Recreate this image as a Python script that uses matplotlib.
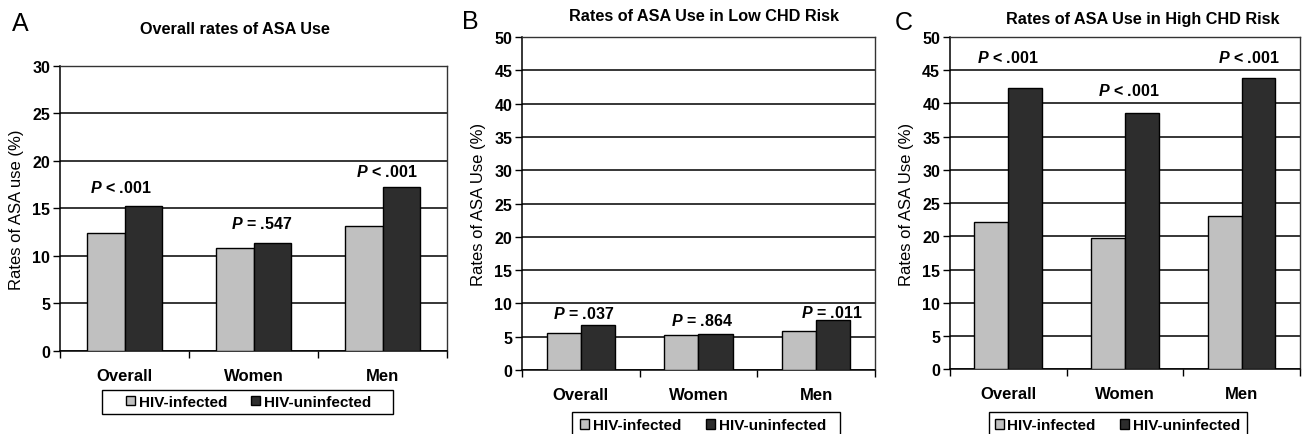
import matplotlib
matplotlib.use("Agg")
import matplotlib.pyplot as plt
import numpy as np
from matplotlib.patches import Patch, Rectangle

plt.rcParams["font.family"] = ["Liberation Sans", "DejaVu Sans"]
plt.rcParams["mathtext.fontset"] = "custom"
plt.rcParams["mathtext.it"] = "Liberation Sans:italic:bold"
plt.rcParams["mathtext.rm"] = "Liberation Sans:bold"

categories = ["Overall", "Women", "Men"]
series = ["HIV-infected", "HIV-uninfected"]

a_infected = [12.4, 10.8, 13.1]
a_uninfected = [15.3, 11.4, 17.3]
a_pvals = ["$P$ < .001", "$P$ = .547", "$P$ < .001"]

b_infected = [5.6, 5.3, 5.8]
b_uninfected = [6.8, 5.4, 7.5]
b_pvals = ["$P$ = .037", "$P$ = .864", "$P$ = .011"]

c_infected = [22.1, 19.7, 23.0]
c_uninfected = [42.4, 38.5, 43.9]
c_pvals = ["$P$ < .001", "$P$ < .001", "$P$ < .001"]

LIGHT = "#c0c0c0"
DARK = "#2d2d2d"
W = 0.29

fig = plt.figure(figsize=(13.04, 4.35), dpi=100)

# per panel layout: axes rect, title / letter positions, legend centre and its box,
# p-label placement (x offset from group centre, y in data units)
panels = [
    dict(rect=[0.046, 0.191, 0.297, 0.655], ymax=30, inf=a_infected, uninf=a_uninfected,
         pv=a_pvals, ylabel="Rates of ASA use (%)", title="Overall rates of ASA Use",
         tpos=(0.180, 0.933), letter="A", lpos=(0.009, 0.945),
         leg=(0.1906, 0.0736), box=(0.0782, 0.046, 0.2232, 0.0552),
         pdx=[-0.03, 0.06, 0.03], py=[17.3, 13.5, 18.9]),
    dict(rect=[0.4003, 0.147, 0.2707, 0.7655], ymax=50, inf=b_infected, uninf=b_uninfected,
         pv=b_pvals, ylabel="Rates of ASA Use (%)", title="Rates of ASA Use in Low CHD Risk",
         tpos=(0.540, 0.961), letter="B", lpos=(0.354, 0.950),
         leg=(0.539, 0.020), box=(0.4387, -0.03, 0.2055, 0.0806),
         pdx=[0.02, 0.03, 0.13], py=[8.55, 7.5, 8.7]),
    dict(rect=[0.7285, 0.149, 0.2684, 0.7635], ymax=50, inf=c_infected, uninf=c_uninfected,
         pv=c_pvals, ylabel="Rates of ASA Use (%)", title="Rates of ASA Use in High CHD Risk",
         tpos=(0.876, 0.956), letter="C", lpos=(0.686, 0.947),
         leg=(0.857, 0.020), box=(0.7584, -0.03, 0.1979, 0.0806),
         pdx=[0.0, 0.03, 0.06], py=[47.0, 42.0, 47.0]),
]

for p in panels:
    ax = fig.add_axes(p["rect"])
    centers = np.arange(len(categories)) + 0.5
    ax.bar(centers - W / 2, p["inf"], W, color=LIGHT, edgecolor="black", linewidth=1, zorder=3)
    ax.bar(centers + W / 2, p["uninf"], W, color=DARK, edgecolor="black", linewidth=1, zorder=3)

    ax.set_xlim(0, len(categories))
    ax.set_ylim(0, p["ymax"])
    ax.set_yticks(np.arange(0, p["ymax"] + 1, 5))
    ax.yaxis.grid(True, color="black", linewidth=1.1, zorder=0)
    ax.set_axisbelow(True)

    ax.set_xticks(np.arange(len(categories) + 1))
    ax.set_xticklabels([])
    ax.set_xticks(centers, minor=True)
    ax.set_xticklabels(categories, minor=True, fontsize=12, fontweight="bold")
    ax.tick_params(axis="x", which="major", length=5, width=1, direction="out")
    ax.tick_params(axis="x", which="minor", length=0, pad=12)
    ax.tick_params(axis="y", length=5, width=1, direction="out", pad=2, labelsize=11.5)
    for lab in ax.get_yticklabels():
        lab.set_fontweight("bold")

    for side in ["left", "bottom"]:
        ax.spines[side].set_color("black")
        ax.spines[side].set_linewidth(1.1)
    for side in ["top", "right"]:
        ax.spines[side].set_color("#333333")
        ax.spines[side].set_linewidth(1.0)

    ax.set_ylabel(p["ylabel"], fontsize=12, labelpad=6)

    for i, txt in enumerate(p["pv"]):
        ax.text(centers[i] + p["pdx"][i], p["py"][i], txt, ha="center", va="center",
                fontsize=11.5, fontweight="bold", zorder=4)

    fig.text(p["tpos"][0], p["tpos"][1], p["title"], ha="center", va="center",
             fontsize=11.7, fontweight="bold")
    fig.text(p["lpos"][0], p["lpos"][1], p["letter"], ha="left", va="center", fontsize=18)

    handles = [Patch(facecolor=LIGHT, edgecolor="black", linewidth=1),
               Patch(facecolor=DARK, edgecolor="black", linewidth=1)]
    fig.legend(handles, series, loc="center", bbox_to_anchor=p["leg"],
               ncol=2, frameon=False, handlelength=0.6, handleheight=0.6,
               handletextpad=0.25, columnspacing=1.6, borderpad=0.0,
               prop={"size": 11, "weight": "bold"})
    bx, by, bw, bh = p["box"]
    fig.add_artist(Rectangle((bx, by), bw, bh, transform=fig.transFigure, fill=False,
                             edgecolor="black", linewidth=1))

fig.savefig("out.png", dpi=100)
